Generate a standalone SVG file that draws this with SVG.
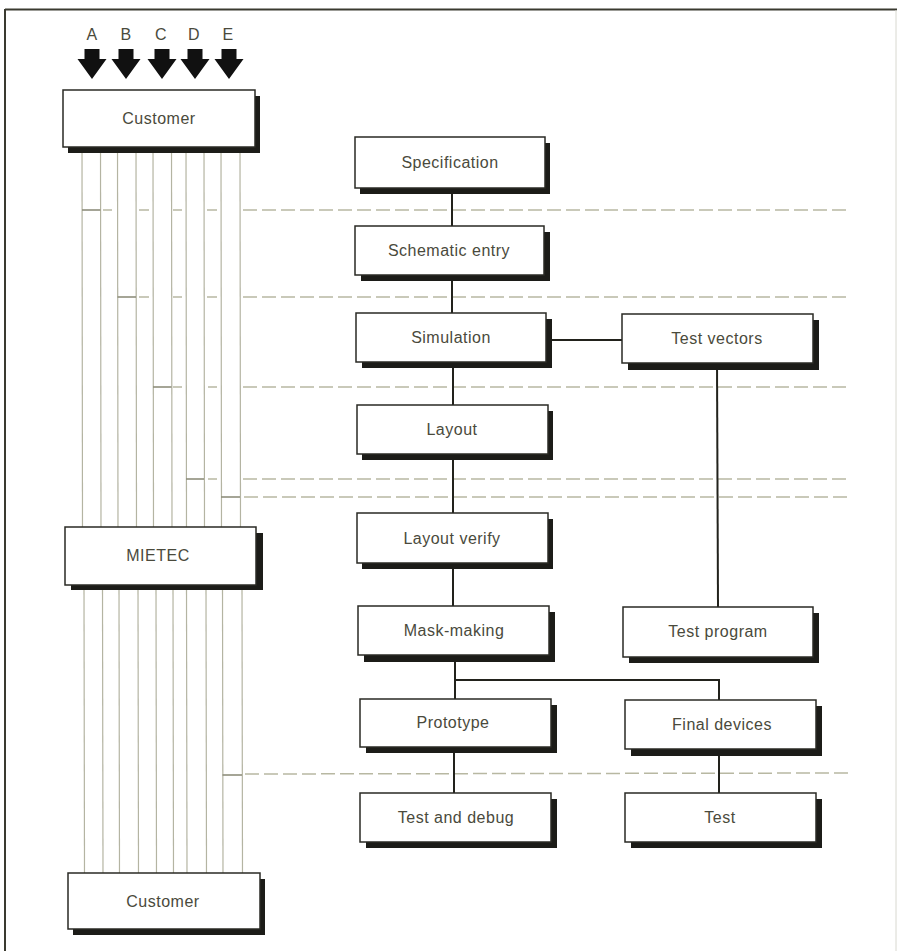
<svg xmlns="http://www.w3.org/2000/svg" xmlns:xlink="http://www.w3.org/1999/xlink" width="897" height="951" viewBox="0 0 897 951">
<style>
  .frame{stroke:#3a3a30;stroke-width:2;fill:none}
  .shadow{fill:#1c1c18}
  .box{fill:#ffffff;stroke:#2a2a24;stroke-width:1.5}
  .lbl{font-family:"Liberation Sans",Arial,sans-serif;font-size:16px;fill:#4a4a3c;text-anchor:middle;letter-spacing:0.5px}
  .conn{stroke:#22221c;stroke-width:2;fill:none}
  .vl{stroke:#b4b4a2;stroke-width:1.2;fill:none}
  .rung{stroke:#8e8e7c;stroke-width:1.6;fill:none}
  .dash{stroke:#b8b8a2;stroke-width:1.5;fill:none;stroke-dasharray:14 5}
  .sd{stroke:#b8b8a2;stroke-width:1.5;fill:none}
  .arrow{fill:#111111}
</style>
<defs>
  <path id="bigArrow" d="M-7.5,49 H7.5 V59 H14.5 L0,79 L-14.5,59 H-7.5 Z"/>
</defs>
<rect x="0" y="0" width="897" height="951" fill="#ffffff"/>
<g id="frame">
  <line class="frame" x1="5" y1="9.5" x2="897" y2="9.5"/>
  <line class="frame" x1="5" y1="9" x2="5" y2="951"/>
  <line x1="896" y1="10" x2="896" y2="951" stroke="#d8d8d0" stroke-width="1"/>
</g>
<g id="inputs">
  <text class="lbl" x="92" y="40">A</text>
  <text class="lbl" x="126" y="40">B</text>
  <text class="lbl" x="161" y="40">C</text>
  <text class="lbl" x="194" y="40">D</text>
  <text class="lbl" x="228" y="40">E</text>
  <use xlink:href="#bigArrow" class="arrow" x="92" y="0"/>
  <use xlink:href="#bigArrow" class="arrow" x="126" y="0"/>
  <use xlink:href="#bigArrow" class="arrow" x="162" y="0"/>
  <use xlink:href="#bigArrow" class="arrow" x="195" y="0"/>
  <use xlink:href="#bigArrow" class="arrow" x="229" y="0"/>
</g>
<g id="connectors">
  <!-- channel lines customer -> MIETEC -->
  <g id="channels-top">
    <line class="vl" x1="82" y1="147" x2="82.5" y2="527"/>
    <line class="vl" x1="100.5" y1="147" x2="101" y2="527"/>
    <line class="vl" x1="117.5" y1="147" x2="118" y2="527"/>
    <line class="vl" x1="136" y1="147" x2="136.5" y2="527"/>
    <line class="vl" x1="153" y1="147" x2="153.5" y2="527"/>
    <line class="vl" x1="171.5" y1="147" x2="172" y2="527"/>
    <line class="vl" x1="186" y1="147" x2="186.5" y2="527"/>
    <line class="vl" x1="204" y1="147" x2="204.5" y2="527"/>
    <line class="vl" x1="221" y1="147" x2="221.5" y2="527"/>
    <line class="vl" x1="240" y1="147" x2="240.5" y2="527"/>
  </g>
  <g id="channels-bottom">
    <line class="vl" x1="84" y1="590" x2="84.5" y2="873"/>
    <line class="vl" x1="102.5" y1="590" x2="103" y2="873"/>
    <line class="vl" x1="119" y1="590" x2="119.5" y2="873"/>
    <line class="vl" x1="138" y1="590" x2="138.5" y2="873"/>
    <line class="vl" x1="156" y1="590" x2="156.5" y2="873"/>
    <line class="vl" x1="173" y1="590" x2="173.5" y2="873"/>
    <line class="vl" x1="186.5" y1="590" x2="187" y2="873"/>
    <line class="vl" x1="206" y1="590" x2="206.5" y2="873"/>
    <line class="vl" x1="222.5" y1="590" x2="223" y2="873"/>
    <line class="vl" x1="242" y1="590" x2="242.5" y2="873"/>
  </g>
  <g id="rungs">
    <line class="rung" x1="82" y1="210" x2="100.5" y2="210"/>
    <line class="rung" x1="117.5" y1="297" x2="136" y2="297"/>
    <line class="rung" x1="153" y1="387" x2="171.5" y2="387"/>
    <line class="rung" x1="186" y1="479" x2="204" y2="479"/>
    <line class="rung" x1="221" y1="497" x2="240" y2="497"/>
    <line class="rung" x1="222.5" y1="775" x2="242" y2="775"/>
  </g>
  <g id="phase-lines">
    <path class="sd" d="M103,210 H112 M139,210 H149 M173,210 H182 M207,210 H217"/>
    <path class="sd" d="M139,297 H149 M173,297 H182 M207,297 H217"/>
    <path class="sd" d="M173,387 H182 M208,387 H217"/>
    <path class="sd" d="M208,479 H217"/>
    <line class="dash" x1="243" y1="210" x2="847" y2="210"/>
    <line class="dash" x1="243" y1="297" x2="847" y2="297"/>
    <line class="dash" x1="243" y1="387" x2="848" y2="387"/>
    <line class="dash" x1="243" y1="479" x2="849" y2="479"/>
    <line class="dash" x1="244" y1="497" x2="849" y2="497"/>
    <line class="dash" x1="245" y1="774" x2="851" y2="773"/>
  </g>
  <g id="flow">
    <line class="conn" x1="452" y1="188" x2="452" y2="226"/>
    <line class="conn" x1="452" y1="275" x2="452" y2="313"/>
    <line class="conn" x1="453" y1="362" x2="453" y2="405"/>
    <line class="conn" x1="453" y1="454" x2="453" y2="513"/>
    <line class="conn" x1="453" y1="563" x2="453" y2="606"/>
    <line class="conn" x1="455" y1="654" x2="455" y2="699"/>
    <polyline class="conn" points="455,680 719,680 719,700"/>
    <line class="conn" x1="546" y1="340" x2="622" y2="340"/>
    <line class="conn" x1="717" y1="363" x2="718" y2="607"/>
    <line class="conn" x1="454" y1="747" x2="454" y2="793"/>
    <line class="conn" x1="719" y1="749" x2="719" y2="793"/>
  </g>
</g>
<g id="customer-top">
  <rect class="shadow" x="68" y="96" width="192" height="57"/>
  <rect class="box" x="63" y="90" width="192" height="57"/>
  <text class="lbl" x="159" y="124">Customer</text>
</g>
<g id="mietec">
  <rect class="shadow" x="71" y="533" width="192" height="57"/>
  <rect class="box" x="65" y="527" width="191" height="58"/>
  <text class="lbl" x="158" y="561">MIETEC</text>
</g>
<g id="customer-bottom">
  <rect class="shadow" x="73" y="879" width="192" height="56"/>
  <rect class="box" x="68" y="873" width="192" height="56"/>
  <text class="lbl" x="163" y="907">Customer</text>
</g>
<g id="specification">
  <rect class="shadow" x="360" y="143" width="190" height="51"/>
  <rect class="box" x="355" y="137" width="190" height="51"/>
  <text class="lbl" x="450" y="168">Specification</text>
</g>
<g id="schematic-entry">
  <rect class="shadow" x="361" y="232" width="189" height="49"/>
  <rect class="box" x="355" y="226" width="189" height="49"/>
  <text class="lbl" x="449" y="256">Schematic entry</text>
</g>
<g id="simulation">
  <rect class="shadow" x="362" y="319" width="190" height="49"/>
  <rect class="box" x="356" y="313" width="190" height="49"/>
  <text class="lbl" x="451" y="343">Simulation</text>
</g>
<g id="test-vectors">
  <rect class="shadow" x="628" y="320" width="191" height="50"/>
  <rect class="box" x="622" y="314" width="191" height="49"/>
  <text class="lbl" x="717" y="344">Test vectors</text>
</g>
<g id="layout">
  <rect class="shadow" x="362" y="411" width="191" height="49"/>
  <rect class="box" x="357" y="405" width="191" height="49"/>
  <text class="lbl" x="452" y="435">Layout</text>
</g>
<g id="layout-verify">
  <rect class="shadow" x="362" y="519" width="191" height="50"/>
  <rect class="box" x="357" y="513" width="191" height="50"/>
  <text class="lbl" x="452" y="544">Layout verify</text>
</g>
<g id="mask-making">
  <rect class="shadow" x="364" y="612" width="191" height="50"/>
  <rect class="box" x="358" y="606" width="191" height="49"/>
  <text class="lbl" x="454" y="636">Mask-making</text>
</g>
<g id="test-program">
  <rect class="shadow" x="629" y="613" width="190" height="50"/>
  <rect class="box" x="623" y="607" width="190" height="50"/>
  <text class="lbl" x="718" y="637">Test program</text>
</g>
<g id="prototype">
  <rect class="shadow" x="366" y="705" width="191" height="48"/>
  <rect class="box" x="360" y="699" width="191" height="48"/>
  <text class="lbl" x="453" y="728">Prototype</text>
</g>
<g id="final-devices">
  <rect class="shadow" x="631" y="706" width="191" height="50"/>
  <rect class="box" x="625" y="700" width="191" height="49"/>
  <text class="lbl" x="722" y="730">Final devices</text>
</g>
<g id="test-and-debug">
  <rect class="shadow" x="366" y="799" width="191" height="49"/>
  <rect class="box" x="360" y="793" width="191" height="49"/>
  <text class="lbl" x="456" y="823">Test and debug</text>
</g>
<g id="test">
  <rect class="shadow" x="631" y="799" width="191" height="49"/>
  <rect class="box" x="625" y="793" width="191" height="49"/>
  <text class="lbl" x="720" y="823">Test</text>
</g>
</svg>
